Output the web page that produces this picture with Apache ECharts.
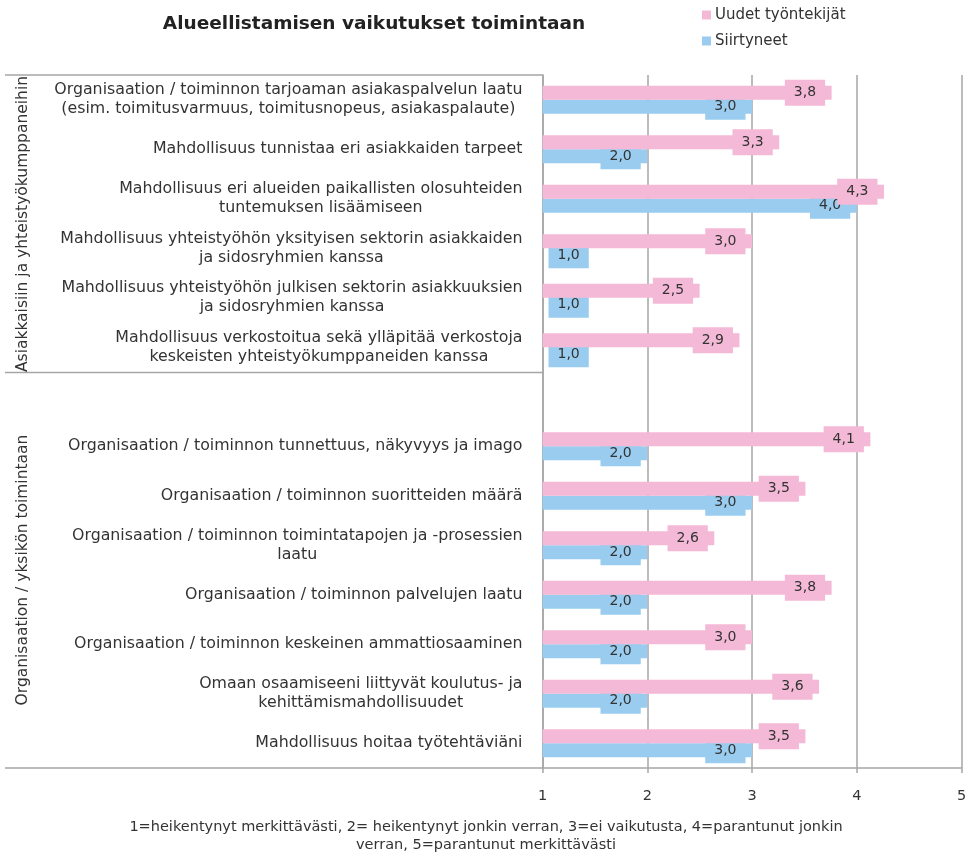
<!DOCTYPE html>
<html>
<head>
<meta charset="utf-8">
<script src="https://cdn.jsdelivr.net/npm/echarts@6/dist/echarts.min.js"></script>
<style>html,body{margin:0;padding:0;background:#fff}#c{width:973px;height:854px}</style>
</head>
<body>
<div id="c"></div>
<script>
const categories = [
  "Organisaation / toiminnon tarjoaman asiakaspalvelun laatu\n(esim. toimitusvarmuus, toimitusnopeus, asiakaspalaute)",
  "Mahdollisuus tunnistaa eri asiakkaiden tarpeet",
  "Mahdollisuus eri alueiden paikallisten olosuhteiden\ntuntemuksen lisäämiseen",
  "Mahdollisuus yhteistyöhön yksityisen sektorin asiakkaiden\nja sidosryhmien kanssa",
  "Mahdollisuus yhteistyöhön julkisen sektorin asiakkuuksien\nja sidosryhmien kanssa",
  "Mahdollisuus verkostoitua sekä ylläpitää verkostoja\nkeskeisten yhteistyökumppaneiden kanssa",
  "",
  "Organisaation / toiminnon tunnettuus, näkyvyys ja imago",
  "Organisaation / toiminnon suoritteiden määrä",
  "Organisaation / toiminnon toimintatapojen ja -prosessien\nlaatu",
  "Organisaation / toiminnon palvelujen laatu",
  "Organisaation / toiminnon keskeinen ammattiosaaminen",
  "Omaan osaamiseeni liittyvät koulutus- ja\nkehittämismahdollisuudet",
  "Mahdollisuus hoitaa työtehtäviäni"
];
const uudet = [3.76, 3.26, 4.26, 3.0, 2.5, 2.88, null, 4.13, 3.51, 2.64, 3.76, 3.0, 3.64, 3.51];
const siirtyneet = [3.0, 2.0, 4.0, 1.0, 1.0, 1.0, null, 2.0, 3.0, 2.0, 2.0, 2.0, 2.0, 3.0];
const seriesNames = ["Uudet työntekijät", "Siirtyneet"];
const xTicks = [1, 2, 3, 4, 5];
const groupLabels = ["Asiakkaisiin ja yhteistyökumppaneihin", "Organisaation / yksikön toimintaan"];
const chartTitle = "Alueellistamisen vaikutukset toimintaan";
const footnote = "1=heikentynyt merkittävästi, 2= heikentynyt jonkin verran, 3=ei vaikutusta, 4=parantunut jonkin\nverran, 5=parantunut merkittävästi";

const FONT = "DejaVu Sans";
const PINK = "#F4B9D6";
const BLUE = "#99CCEE";
const GRID = "#A6A6A6";

function fmt(v) { return v.toFixed(1).replace('.', ','); }
function makeData(arr) {
  return arr.map(v => {
    if (v === null) return null;
    if (v <= 1) return { value: v, label: { position: 'right', distance: 6 } };
    return v;
  });
}
const labelCfg = (color) => ({
  show: true,
  position: 'insideRight',
  distance: 6.5,
  formatter: p => fmt(p.value),
  fontFamily: FONT,
  fontSize: 14,
  lineHeight: 16,
  color: '#333',
  backgroundColor: color,
  padding: [5, 9, 5, 9]
});

const chart = echarts.init(document.getElementById('c'), null, { renderer: 'canvas' });
chart.setOption({
  animation: false,
  title: [
    { text: chartTitle, left: 374, top: 13, textAlign: 'center', padding: 0,
      textStyle: { fontFamily: FONT, fontWeight: 'bold', fontSize: 18.5, lineHeight: 22, color: '#222' } },
    { text: footnote, left: 486, top: 818, textAlign: 'center', padding: 0,
      textStyle: { fontFamily: FONT, fontWeight: 'normal', fontSize: 14.5, lineHeight: 18, color: '#333' } }
  ],
  legend: {
    orient: 'vertical', left: 702, top: 7, padding: 0,
    itemWidth: 9, itemHeight: 9, itemGap: 10,
    icon: 'rect',
    textStyle: { fontFamily: FONT, fontSize: 15, lineHeight: 16, color: '#333', padding: [0, 0, 0, -1] },
    data: seriesNames
  },
  grid: { left: 542.5, right: 11.5, top: 75, bottom: 86, containLabel: false },
  xAxis: {
    type: 'value', min: xTicks[0], max: xTicks[xTicks.length - 1], interval: 1,
    axisLine: { show: true, lineStyle: { color: GRID, width: 1.5 } },
    axisTick: { show: true, length: 5, lineStyle: { color: GRID, width: 1.5 } },
    splitLine: { show: true, lineStyle: { color: GRID, width: 1.5 } },
    axisLabel: { margin: 21, fontFamily: FONT, fontSize: 14.5, color: '#333',
      formatter: v => String(v) }
  },
  yAxis: {
    type: 'category', inverse: true, data: categories,
    axisLine: { show: true, lineStyle: { color: GRID, width: 1.5 } },
    axisTick: { show: false },
    splitLine: { show: false },
    axisLabel: {
      margin: 20, align: 'right', interval: 0,
      formatter: v => v === '' ? '' : v.split('\n').map(l => '{c|' + l + '}').join('\n'),
      rich: { c: { align: 'center', fontFamily: FONT, fontSize: 15.8, lineHeight: 19, color: '#333' } }
    }
  },
  series: [
    { name: seriesNames[0], type: 'bar', data: makeData(uudet), barWidth: 14, barGap: '0%',
      itemStyle: { color: PINK }, label: labelCfg(PINK), z: 4 },
    { name: seriesNames[1], type: 'bar', data: makeData(siirtyneet), barWidth: 14, barGap: '0%',
      itemStyle: { color: BLUE }, label: labelCfg(BLUE), z: 3 }
  ],
  graphic: [
    { type: 'line', shape: { x1: 5, y1: 75, x2: 543, y2: 75 }, style: { stroke: GRID, lineWidth: 1.5 }, silent: true },
    { type: 'line', shape: { x1: 5, y1: 372.5, x2: 543, y2: 372.5 }, style: { stroke: GRID, lineWidth: 1.5 }, silent: true },
    { type: 'line', shape: { x1: 5, y1: 768, x2: 543, y2: 768 }, style: { stroke: GRID, lineWidth: 1.5 }, silent: true },
    { type: 'text', x: 23, y: 224, rotation: Math.PI / 2,
      style: { text: groupLabels[0], fontFamily: FONT, fontSize: 15.5, fill: '#333', textAlign: 'center', textVerticalAlign: 'middle' } },
    { type: 'text', x: 23, y: 570, rotation: Math.PI / 2,
      style: { text: groupLabels[1], fontFamily: FONT, fontSize: 15.5, fill: '#333', textAlign: 'center', textVerticalAlign: 'middle' } }
  ]
});
</script>
</body>
</html>
